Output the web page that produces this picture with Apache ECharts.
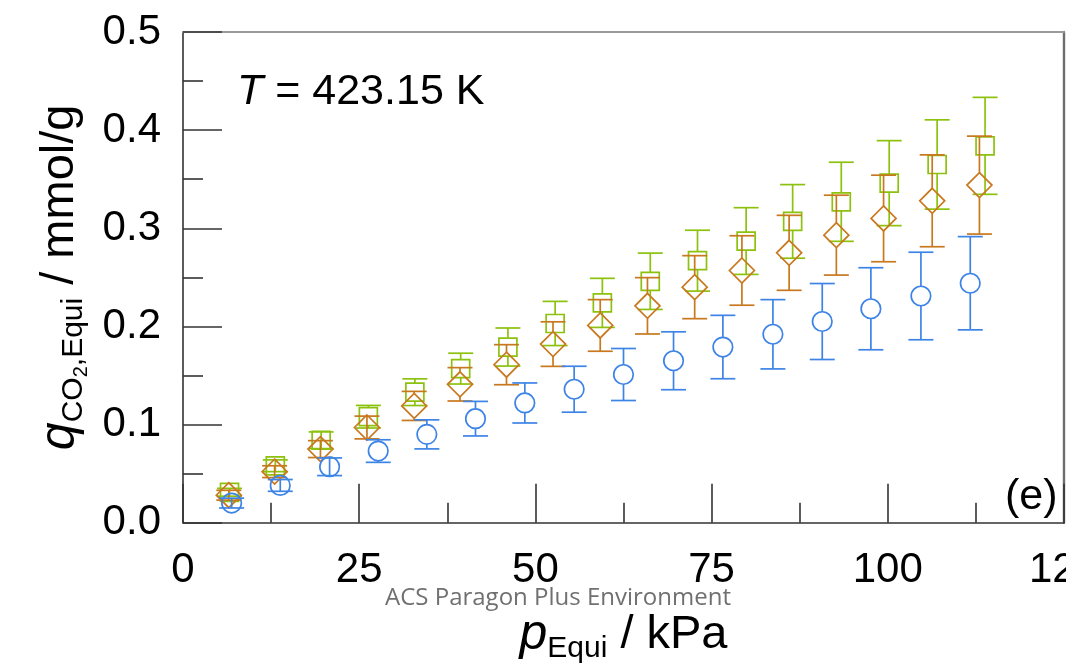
<!DOCTYPE html>
<html>
<head>
<meta charset="utf-8">
<title>CO2 uptake at 423.15 K</title>
<script src="https://cdn.jsdelivr.net/npm/echarts@6.0.0/dist/echarts.min.js"></script>
<style>
  html, body { margin: 0; padding: 0; background: #ffffff; }
  #chart { width: 1066px; height: 664px; }
</style>
</head>
<body>
<div id="chart"></div>
<script>
// Equilibrium pressure (kPa), loading (mmol/g) and its uncertainty for each sample
const pBlue = [6.9, 13.8, 20.8, 27.7, 34.6, 41.5, 48.5, 55.5, 62.5, 69.6, 76.6, 83.7, 90.7, 97.6, 104.7, 111.7];
const qBlue = [0.020, 0.038, 0.057, 0.073, 0.090, 0.106, 0.122, 0.136, 0.151, 0.165, 0.179, 0.192, 0.205, 0.218, 0.231, 0.244];
const eBlue = [0.005, 0.006, 0.009, 0.0115, 0.0148, 0.0176, 0.0204, 0.0234, 0.0265, 0.0295, 0.0323, 0.0353, 0.0387, 0.0418, 0.0446, 0.0475];

const pOrange = [6.5, 13.0, 19.5, 26.1, 32.8, 39.3, 45.9, 52.5, 59.2, 65.9, 72.6, 79.3, 86.0, 92.7, 99.4, 106.3, 113.0];
const qOrange = [0.028, 0.052, 0.075, 0.097, 0.119, 0.141, 0.161, 0.182, 0.201, 0.221, 0.240, 0.257, 0.275, 0.293, 0.310, 0.328, 0.344];
const eOrange = [0.005, 0.006, 0.0086, 0.0116, 0.0148, 0.017, 0.0204, 0.0227, 0.0263, 0.0287, 0.0321, 0.0354, 0.0382, 0.0407, 0.0441, 0.0468, 0.0499];

const pGreen = [6.6, 13.1, 19.6, 26.3, 32.9, 39.4, 46.1, 52.8, 59.5, 66.3, 73.0, 79.9, 86.5, 93.4, 100.2, 107.0, 113.8];
const qGreen = [0.031, 0.058, 0.084, 0.108, 0.133, 0.157, 0.179, 0.203, 0.224, 0.246, 0.267, 0.287, 0.307, 0.327, 0.346, 0.365, 0.384];
const eGreen = [0.004, 0.006, 0.0085, 0.0115, 0.0136, 0.0157, 0.0194, 0.0225, 0.025, 0.0287, 0.031, 0.034, 0.0375, 0.0403, 0.0433, 0.0455, 0.0494];

// Axis ranges and tick labels
const xTickLabels = ['0', '25', '50', '75', '100', '125'];
const yTickLabels = ['0.0', '0.1', '0.2', '0.3', '0.4', '0.5'];
const xStep = 25;
const yStep = 0.1;

const BLUE = '#3d84e6';
const ORANGE = '#c8781f';
const GREEN = '#8cc20e';
const FONT = '"Liberation Sans", Arial, sans-serif';

// Vertical error bar with caps; the stem leaves a gap where the hollow symbol sits
function errorBars(name, p, q, e, color, gap, z) {
  return {
    name: name + ' error',
    type: 'custom',
    z: z,
    silent: true,
    data: p.map((x, i) => [x, q[i], q[i] - e[i], q[i] + e[i]]),
    renderItem(params, api) {
      const c = api.coord([api.value(0), api.value(1)]);
      const lo = api.coord([api.value(0), api.value(2)]);
      const hi = api.coord([api.value(0), api.value(3)]);
      const hw = 12.5;
      const style = { stroke: color, lineWidth: 1.7, fill: null };
      const kids = [
        { type: 'line', shape: { x1: c[0] - hw, y1: hi[1], x2: c[0] + hw, y2: hi[1] }, style },
        { type: 'line', shape: { x1: c[0] - hw, y1: lo[1], x2: c[0] + hw, y2: lo[1] }, style }
      ];
      if (c[1] - hi[1] > gap) {
        kids.push({ type: 'line', shape: { x1: c[0], y1: hi[1], x2: c[0], y2: c[1] - gap }, style });
        kids.push({ type: 'line', shape: { x1: c[0], y1: c[1] + gap, x2: c[0], y2: lo[1] }, style });
      } else {
        kids.push({ type: 'line', shape: { x1: c[0], y1: hi[1], x2: c[0], y2: lo[1] }, style });
      }
      return { type: 'group', children: kids };
    }
  };
}

function markers(name, p, q, color, symbol, size, z) {
  return {
    name: name,
    type: 'scatter',
    z: z,
    symbol: symbol,
    symbolSize: size,
    silent: true,
    data: p.map((x, i) => [x, q[i]]),
    itemStyle: { color: 'rgba(0,0,0,0)', borderColor: color, borderWidth: 1.7, opacity: 1 },
    emphasis: { disabled: true }
  };
}

const chart = echarts.init(document.getElementById('chart'), null, { renderer: 'canvas' });

const axisInk = '#333333';

chart.setOption({
  animation: false,
  backgroundColor: '#ffffff',
  grid: { left: 183, right: 2, top: 32, bottom: 141.3, containLabel: false, outerBoundsMode: 'none' },
  xAxis: [{
    type: 'value',
    min: 0, max: 125, interval: xStep,
    position: 'bottom',
    axisLine: { show: true, onZero: false, lineStyle: { color: axisInk, width: 1.6 } },
    axisTick: { show: true, inside: true, length: 39, lineStyle: { color: axisInk, width: 1.6 } },
    minorTick: { show: true, splitNumber: 2, length: 20, lineStyle: { color: axisInk, width: 1.6 } },
    splitLine: { show: false },
    axisLabel: {
      show: true, margin: 27, color: '#000', fontSize: 42, fontFamily: FONT,
      showMaxLabel: true, showMinLabel: true, hideOverlap: false,
      formatter: v => xTickLabels[Math.round(v / xStep)]
    },
    name: '{p|p}{s|Equi}{n| / kPa}',
    nameLocation: 'middle',
    nameGap: 82,
    nameTextStyle: {
      rich: {
        p: { fontFamily: FONT, fontStyle: 'italic', fontSize: 50, color: '#000', lineHeight: 60 },
        s: { fontFamily: FONT, fontSize: 30, color: '#000', lineHeight: 60, padding: [28, 0, 0, 0] },
        n: { fontFamily: FONT, fontSize: 47, color: '#000', lineHeight: 60 }
      }
    }
  }, {
    type: 'value',
    min: 0, max: 125, interval: xStep,
    position: 'top',
    axisLine: { show: true, onZero: false, lineStyle: { color: '#9a9a9a', width: 2 } },
    axisTick: { show: false },
    axisLabel: { show: false },
    splitLine: { show: false }
  }],
  yAxis: [{
    type: 'value',
    min: 0, max: 0.5, interval: yStep,
    position: 'left',
    axisLine: { show: true, onZero: false, lineStyle: { color: axisInk, width: 1.6 } },
    axisTick: { show: true, inside: true, length: 39, lineStyle: { color: axisInk, width: 1.6 } },
    minorTick: { show: true, splitNumber: 2, length: 20, lineStyle: { color: axisInk, width: 1.6 } },
    splitLine: { show: false },
    axisLabel: {
      show: true, margin: 22, color: '#000', fontSize: 42, fontFamily: FONT,
      formatter: v => yTickLabels[Math.round(v / yStep)]
    },
    name: '{q|q}{s|CO}{ss|2}{s|,Equi}{n| / mmol/g}',
    nameLocation: 'middle',
    nameGap: 89,
    nameTextStyle: {
      rich: {
        q: { fontFamily: FONT, fontStyle: 'italic', fontSize: 50, color: '#000', lineHeight: 60 },
        s: { fontFamily: FONT, fontSize: 30, color: '#000', lineHeight: 60, padding: [28, 0, 0, 0] },
        ss: { fontFamily: FONT, fontSize: 20, color: '#000', lineHeight: 60, padding: [44, 0, 0, 0] },
        n: { fontFamily: FONT, fontSize: 47, color: '#000', lineHeight: 60 }
      }
    }
  }, {
    type: 'value',
    min: 0, max: 0.5, interval: yStep,
    position: 'right',
    axisLine: { show: true, onZero: false, lineStyle: { color: '#6e6e6e', width: 2.4 } },
    axisTick: { show: false },
    axisLabel: { show: false },
    splitLine: { show: false }
  }],
  series: [
    errorBars('Square', pGreen, qGreen, eGreen, GREEN, 9, 2),
    markers('Square', pGreen, qGreen, GREEN, 'rect', 18, 3),
    errorBars('Diamond', pOrange, qOrange, eOrange, ORANGE, 12.5, 4),
    markers('Diamond', pOrange, qOrange, ORANGE, 'diamond', 25, 5),
    errorBars('Circle', pBlue, qBlue, eBlue, BLUE, 9.8, 6),
    markers('Circle', pBlue, qBlue, BLUE, 'circle', 19.5, 7)
  ],
  graphic: [
    {
      type: 'text', x: 237, y: 92, z: 20, silent: true,
      style: {
        text: '{t|T}{r| = 423.15 K}',
        verticalAlign: 'middle', align: 'left',
        rich: {
          t: { fontFamily: FONT, fontStyle: 'italic', fontSize: 43, fill: '#000' },
          r: { fontFamily: FONT, fontSize: 43, fill: '#000' }
        }
      }
    },
    {
      type: 'text', x: 1005, y: 497, z: 20, silent: true,
      style: { text: '(e)', fontFamily: FONT, fontSize: 43, fill: '#000', verticalAlign: 'middle', align: 'left' }
    },
    {
      type: 'text', x: 385, y: 598, z: 20, silent: true,
      style: { text: 'ACS Paragon Plus Environment', fontFamily: '"Open Sans", sans-serif', fontSize: 24, fill: '#707070', verticalAlign: 'middle', align: 'left' }
    }
  ]
});
</script>
</body>
</html>
